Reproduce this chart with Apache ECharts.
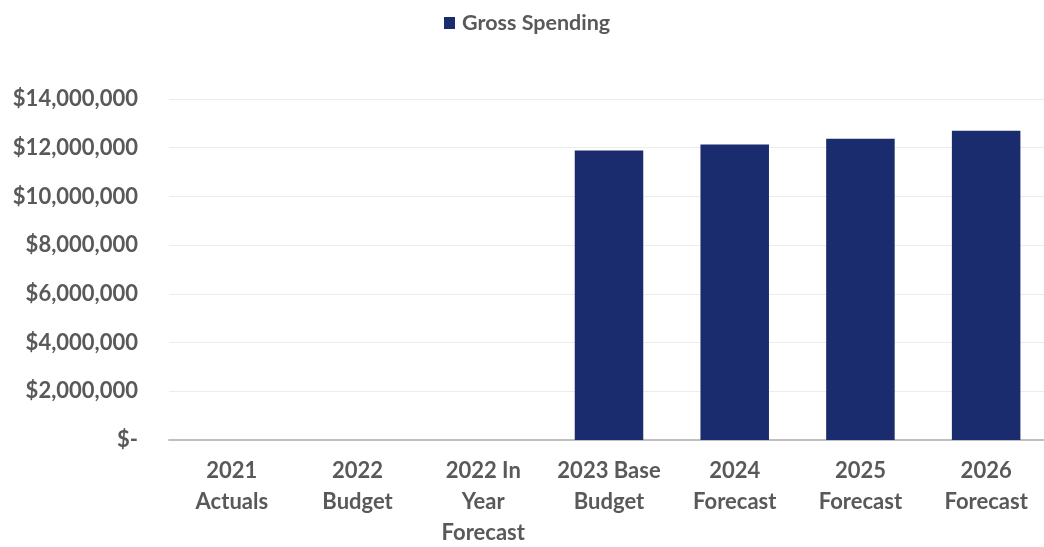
<!DOCTYPE html>
<html>
<head>
<meta charset="utf-8">
<script src="https://cdn.jsdelivr.net/npm/echarts@6/dist/echarts.min.js"></script>
<style>html,body{margin:0;padding:0;background:#fff;overflow:hidden}#c{width:1044px;height:547px}</style>
</head>
<body>
<div id="c"></div>
<script>
const categories = ['2021\nActuals', '2022\nBudget', '2022 In\nYear\nForecast', '2023 Base\nBudget', '2024\nForecast', '2025\nForecast', '2026\nForecast'];
const grossSpending = [0, 0, 0, 11890000, 12130000, 12370000, 12700000];
const seriesName = 'Gross Spending';

const chart = echarts.init(document.getElementById('c'));
const labelFont = { fontFamily: 'Lato', fontWeight: 'bold', fontSize: 22, color: '#595959' };
chart.setOption({
  animation: false,
  legend: {
    top: 7, left: 439,
    itemWidth: 11, itemHeight: 12, itemGap: 8,
    icon: 'rect',
    textStyle: Object.assign({}, labelFont, { fontSize: 21.5, padding: [0, 0, 0, 2] }),
    data: [seriesName]
  },
  grid: { left: 169, right: -5, top: 99, bottom: 107, containLabel: false, outerBoundsMode: 'none' },
  xAxis: {
    type: 'category', data: categories,
    axisLine: { lineStyle: { color: '#bfbfbf', width: 2 } },
    axisTick: { show: false },
    axisLabel: Object.assign({}, labelFont, { interval: 0, margin: 15, lineHeight: 31 })
  },
  yAxis: {
    type: 'value', min: 0, max: 14000000, interval: 2000000,
    axisLine: { show: false }, axisTick: { show: false },
    splitLine: { lineStyle: { color: '#ececec', width: 1 } },
    axisLabel: Object.assign({}, labelFont, {
      margin: 31,
      formatter: v => v === 0 ? '$-' : '$' + v.toLocaleString('en-US')
    })
  },
  series: [{
    name: seriesName, type: 'bar', data: grossSpending,
    barWidth: '54.5%',
    itemStyle: { color: '#1a2b6e' }
  }]
});
</script>
</body>
</html>
